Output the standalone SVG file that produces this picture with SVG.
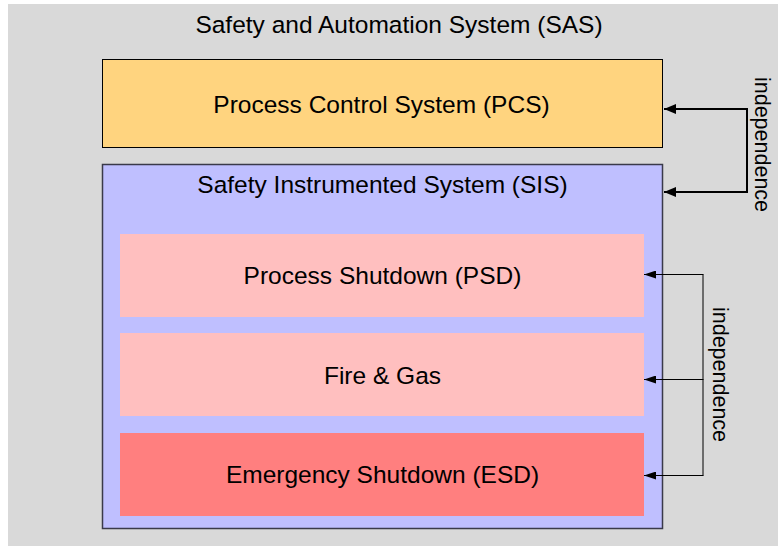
<svg xmlns="http://www.w3.org/2000/svg" width="778" height="546" viewBox="0 0 778 546">
  <style>
    text { font-family: "Liberation Sans", Arial, Helvetica, sans-serif; fill: #000; }
    .lbl { font-size: 24.5px; text-anchor: middle; }
    .side { font-size: 21.5px; text-anchor: middle; }
    .thick { fill: none; stroke: #000; stroke-width: 2; }
    .thin { fill: none; stroke: #000; stroke-width: 1; }
  </style>
  <defs>
    <marker id="headBig" viewBox="0 0 12 10" refX="12" refY="5" markerWidth="12" markerHeight="10" markerUnits="userSpaceOnUse" orient="auto">
      <path d="M0,0 L12,5 L0,10 Z" fill="#000"/>
    </marker>
    <marker id="headSmall" viewBox="0 0 12 8" refX="12" refY="4" markerWidth="12" markerHeight="8" markerUnits="userSpaceOnUse" orient="auto">
      <path d="M0,0 L12,4 L0,8 Z" fill="#000"/>
    </marker>
  </defs>

  <!-- SAS container -->
  <g id="sas">
    <rect x="8" y="4" width="770" height="542" fill="#d9d9d9"/>
    <text class="lbl" x="399" y="33">Safety and Automation System (SAS)</text>
  </g>

  <g id="pcs">
    <rect x="102.5" y="59.5" width="560" height="88" fill="#ffd47f" stroke="#000" stroke-width="1"/>
    <text class="lbl" x="381.5" y="113">Process Control System (PCS)</text>
  </g>

  <g id="sis">
    <rect x="102.5" y="164.5" width="560" height="364" fill="#bfbfff" stroke="#3a3a4a" stroke-width="1.5"/>
    <text class="lbl" x="382.5" y="193">Safety Instrumented System (SIS)</text>
  </g>

  <g id="psd">
    <rect x="120" y="234" width="524" height="83" fill="#ffbfbf"/>
    <text class="lbl" x="382.5" y="284">Process Shutdown (PSD)</text>
  </g>

  <g id="fg">
    <rect x="120" y="333" width="524" height="83" fill="#ffbfbf"/>
    <text class="lbl" x="382.5" y="384">Fire &amp; Gas</text>
  </g>

  <g id="esd">
    <rect x="120" y="433" width="524" height="83" fill="#ff7f7f"/>
    <text class="lbl" x="382.5" y="483">Emergency Shutdown (ESD)</text>
  </g>

  <!-- connectors -->
  <g id="connectors">
    <path class="thick" d="M747,109 L747,192"/>
    <path class="thick" d="M748,109 L664,109" marker-end="url(#headBig)"/>
    <path class="thick" d="M748,192 L664,192" marker-end="url(#headBig)"/>

    <path class="thin" d="M703,274.5 L703,475.5"/>
    <path class="thin" d="M703.5,274.5 L644,274.5" marker-end="url(#headSmall)"/>
    <path class="thin" d="M703.5,379.5 L644,379.5" marker-end="url(#headSmall)"/>
    <path class="thin" d="M703.5,475.5 L644,475.5" marker-end="url(#headSmall)"/>

    <text class="side" transform="translate(755,144.5) rotate(90)">independence</text>
    <text class="side" transform="translate(713,374.5) rotate(90)">independence</text>
  </g>
</svg>
